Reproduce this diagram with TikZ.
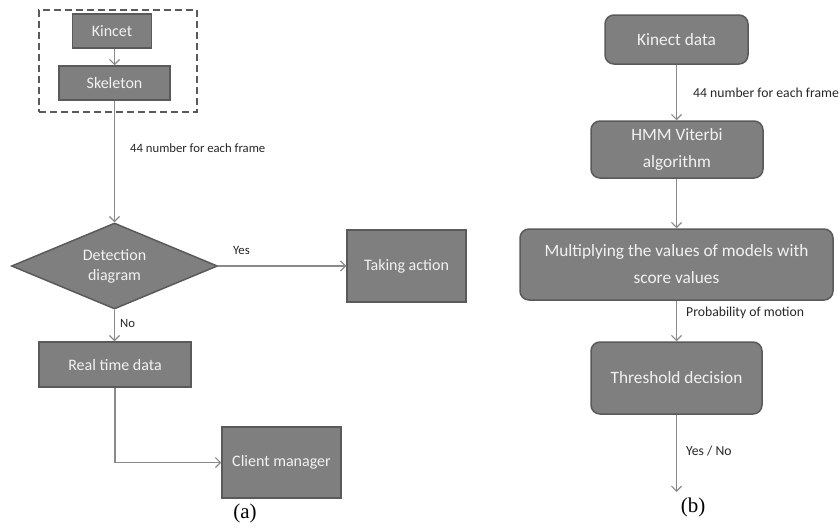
\documentclass[tikz,border=0pt]{standalone}
\usepackage{fontspec}
\setmainfont{Carlito}
\newfontfamily\timesf{Liberation Serif}
\usetikzlibrary{arrows.meta,shapes.geometric}
\definecolor{boxfill}{HTML}{7F7F7F}
\definecolor{boxline}{HTML}{5A5A5A}
\definecolor{boxtext}{HTML}{F2F2F2}
\definecolor{arrowc}{HTML}{8A8A8A}
\definecolor{labtext}{HTML}{262626}
\tikzset{
  sqbox/.style={draw=boxline, line width=1.5pt, fill=boxfill, text=boxtext, font=\fontsize{16}{20}\selectfont, align=center, inner sep=0pt},
  rbox/.style={sqbox, rounded corners=9pt, font=\fontsize{17.3}{27}\selectfont},
  dbox/.style={draw=boxline, line width=1.5pt, fill=boxfill, text=boxtext, font=\fontsize{16}{20}\selectfont, align=center, diamond, aspect=2.4, inner sep=0pt},
  grpbox/.style={draw=boxline, line width=2pt, dash pattern=on 7pt off 4pt},
  conn/.style={draw=arrowc, line width=1.2pt, -{Straight Barb[length=5pt,width=10pt]}},
  lab/.style={text=labtext, font=\fontsize{12.7}{15}\selectfont, anchor=west, inner sep=0pt},
  labr/.style={lab, font=\fontsize{13.7}{16}\selectfont},
  subcap/.style={font=\timesf\fontsize{21}{24}\selectfont, inner sep=0pt}
}
\begin{document}
\begin{tikzpicture}[x=1pt,y=-1pt]
\useasboundingbox (0,0) rectangle (840,530);
% (a)
\node[grpbox, minimum width=158pt, minimum height=102pt] (grp) at (118,61) {};
\node[sqbox, minimum width=79pt, minimum height=34pt] (kincet) at (112,31) {Kincet};
\node[sqbox, minimum width=111pt, minimum height=34pt] (skel) at (114.5,83) {Skeleton};
\node[dbox, minimum width=206pt, minimum height=86pt] (det) at (114.5,266) {Detection\\diagram};
\node[sqbox, minimum width=119pt, minimum height=72pt] (take) at (406.5,266) {Taking action};
\node[sqbox, minimum width=152pt, minimum height=45pt] (rt) at (115,364.5) {Real time data};
\node[sqbox, minimum width=119pt, minimum height=71pt] (cm) at (281.5,462.5) {Client manager};
\draw[conn] (skel.north |- kincet.south) -- (skel.north);
\draw[conn] (skel.south) -- (det.north);
\node[lab] (l1) at (130,148) {44 number for each frame};
\draw[conn] (det.east) -- (take.west);
\node[lab] (lyes) at (233,250) {Yes};
\draw[conn] (det.south) -- (det.south |- rt.north);
\node[lab] (lno) at (120,323) {No};
\draw[conn] (rt.south) -- (rt.south |- cm.west) -- (cm.west);
\node[subcap] (capa) at (245,513) {(a)};
% (b)
\node[rbox, minimum width=143pt, minimum height=49pt] (kin) at (676.5,39.5) {Kinect data};
\node[rbox, minimum width=172pt, minimum height=57pt] (hmm) at (677,149.5) {HMM Viterbi\\algorithm};
\node[rbox, minimum width=313pt, minimum height=71pt] (mult) at (676.5,264.5) {Multiplying the values of models with\\score values};
\node[rbox, minimum width=171pt, minimum height=72pt] (thr) at (676.5,378) {Threshold decision};
\coordinate (endb) at (676.5,492);
\draw[conn] (kin.south) -- (hmm.north -| kin.south);
\node[labr] (l2) at (693,93) {44 number for each frame};
\draw[conn] (hmm.south -| mult.north) -- (mult.north);
\draw[conn] (mult.south) -- (thr.north);
\node[labr] (l3) at (686,313) {Probability of motion};
\draw[conn] (thr.south) -- (endb);
\node[labr] (l4) at (686,451) {Yes / No};
\node[subcap] (capb) at (693,507) {(b)};
\end{tikzpicture}
\end{document}
